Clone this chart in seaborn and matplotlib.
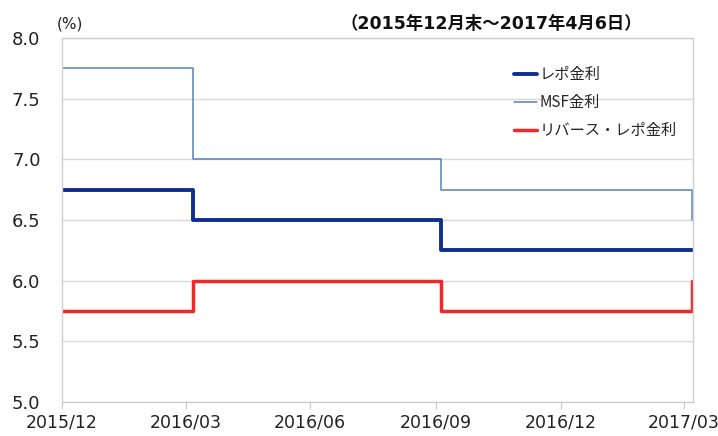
import matplotlib
matplotlib.use("Agg")
import matplotlib.pyplot as plt
import numpy as np
import pandas as pd
import seaborn as sns

# =========================================================
# Data (policy rates, %)
# =========================================================

change_dates = ["2015-12-31", "2016-04-05", "2016-10-04", "2017-04-06"]
repo_rate = [6.75, 6.50, 6.25, 6.25]
msf_rate = [7.75, 7.00, 6.75, 6.50]
reverse_repo_rate = [5.75, 6.00, 5.75, 6.00]

series_names = ["レポ金利", "MSF金利", "リバース・レポ金利"]
series_colors = ["#0f2f8c", "#5583bb", "#f02828"]
series_widths = [2.8, 1.1, 2.5]

tick_dates = ["2015-12-31", "2016-03-31", "2016-06-30",
              "2016-09-30", "2016-12-31", "2017-03-31"]
tick_labels = ["2015/12", "2016/03", "2016/06", "2016/09", "2016/12", "2017/03"]

df = pd.DataFrame({
    "date": pd.to_datetime(change_dates),
    series_names[0]: repo_rate,
    series_names[1]: msf_rate,
    series_names[2]: reverse_repo_rate,
})
long_df = df.melt(id_vars="date", var_name="series", value_name="rate")

# =========================================================
# Plot
# =========================================================

sns.set_style("white")
plt.rcParams["font.family"] = ["DejaVu Sans", "Noto Sans CJK JP"]

fig = plt.figure(figsize=(7.18, 4.36), dpi=100)
ax = fig.add_axes([0.0864, 0.078, 0.879, 0.835])

for name, color, lw in zip(series_names, series_colors, series_widths):
    sub = long_df[long_df["series"] == name]
    sns.lineplot(
        data=sub, x="date", y="rate",
        drawstyle="steps-post",
        color=color, lw=lw, label=name,
        ax=ax
    )

ax.set_xlim(pd.Timestamp("2015-12-31"), pd.Timestamp("2017-04-07"))
ax.set_ylim(5.0, 8.0)
yticks = np.arange(5.0, 8.01, 0.5)
ax.set_yticks(yticks)
ax.set_yticklabels([f"{v:.1f}" for v in yticks])
ax.set_xticks(pd.to_datetime(tick_dates))
ax.set_xticklabels(tick_labels)

ax.grid(axis="y", color="#d9d9d9", lw=1.0)
ax.set_axisbelow(True)

for side in ["left", "right", "top"]:
    ax.spines[side].set_color("#d0d0d0")
    ax.spines[side].set_linewidth(1.0)
ax.spines["bottom"].set_color("#c8c8c8")

ax.tick_params(axis="x", bottom=True, length=5, color="#c8c8c8",
               labelsize=12.5, pad=3, labelcolor="#222222")
ax.tick_params(axis="y", left=False, labelsize=13, pad=12,
               labelcolor="#222222")

ax.set_xlabel("")
ax.set_ylabel("")

ax.legend(
    loc="upper left", bbox_to_anchor=(0.695, 0.96),
    frameon=False, handlelength=1.5,
    handletextpad=0.15, labelspacing=0.72,
    prop={"family": ["Noto Sans CJK JP"], "size": 11}
)

fig.text(0.079, 0.935, "(%)", fontsize=11, color="#222222")
fig.text(0.474, 0.933, "（2015年12月末～2017年4月6日）",
         fontsize=12.5, fontweight="bold",
         family=["DejaVu Sans", "Noto Sans CJK JP"], color="#111111")

fig.savefig("out.png", dpi=100)
